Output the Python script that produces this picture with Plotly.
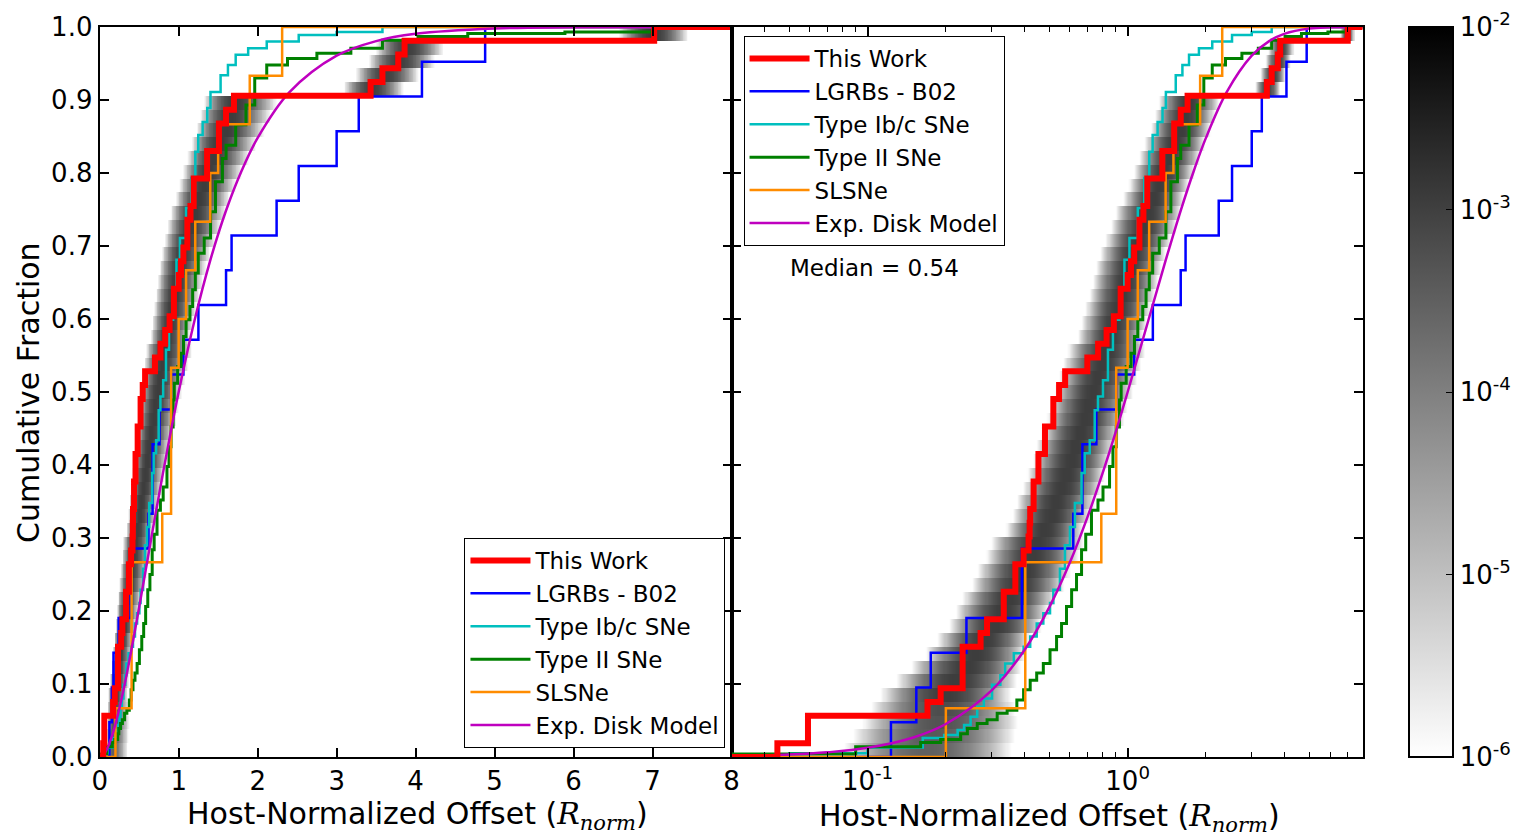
import numpy as np
import plotly.graph_objects as go

# ---------------- data ----------------
# This Work: sorted host-normalized offsets (N = 53)
this_work = [0.045, 0.059, 0.059, 0.170, 0.191, 0.232, 0.232, 0.232, 0.272, 0.288,
             0.334, 0.334, 0.370, 0.370, 0.398, 0.416, 0.420, 0.422, 0.435, 0.435,
             0.454, 0.454, 0.481, 0.481, 0.518, 0.518, 0.545, 0.575, 0.70, 0.77,
             0.83, 0.885, 0.94, 0.94, 1.00, 1.03, 1.06, 1.11, 1.11, 1.15,
             1.19, 1.19, 1.36, 1.36, 1.51, 1.51, 1.60, 1.70, 3.43, 3.58,
             3.78, 3.86, 7.02]

# LGRBs - B02 (N = 21)
lgrb_b02 = [0.123, 0.154, 0.175, 0.24, 0.392, 0.392, 0.618, 0.67, 0.67, 0.758,
            0.904, 1.06, 1.25, 1.60, 1.67, 2.24, 2.52, 3.0, 3.28, 4.08, 4.88]

# SLSNe (N = 15)
slsne = [0.20, 0.404, 0.404, 0.404, 0.792, 0.904, 0.904, 0.904, 1.0, 1.094,
         1.21, 1.40, 1.50, 1.90, 2.31]

# Type Ib/c SNe: step vertices (offset, cumulative fraction)
ibc_x = [0.05, 0.10, 0.163, 0.197, 0.222, 0.235, 0.249, 0.264, 0.280, 0.301,
         0.324, 0.338, 0.365, 0.398, 0.422, 0.447, 0.474, 0.503, 0.518, 0.549,
         0.574, 0.600, 0.627, 0.665, 0.684, 0.715, 0.747, 0.769, 0.804, 0.840,
         0.878, 0.930, 0.972, 1.016, 1.094, 1.159, 1.211, 1.248, 1.304, 1.362,
         1.403, 1.531, 1.624, 1.722, 1.880, 2.115, 2.52, 3.0, 3.58]
ibc_f = [0.005, 0.013, 0.026, 0.030, 0.037, 0.044, 0.055, 0.069, 0.080, 0.099,
         0.112, 0.128, 0.142, 0.151, 0.165, 0.183, 0.197, 0.211, 0.229, 0.258,
         0.290, 0.315, 0.348, 0.389, 0.416, 0.434, 0.475, 0.494, 0.516, 0.558,
         0.599, 0.640, 0.681, 0.711, 0.752, 0.793, 0.829, 0.852, 0.870, 0.889,
         0.911, 0.934, 0.948, 0.962, 0.971, 0.980, 0.989, 0.993, 1.0]

# Type II SNe: step vertices (offset, cumulative fraction)
snii_x = [0.02, 0.09, 0.16, 0.191, 0.228, 0.242, 0.264, 0.288, 0.315, 0.344,
          0.375, 0.398, 0.422, 0.447, 0.474, 0.503, 0.533, 0.557, 0.582, 0.609,
          0.636, 0.665, 0.690, 0.726, 0.769, 0.804, 0.852, 0.878, 0.904, 0.930,
          0.944, 0.987, 1.031, 1.062, 1.094, 1.143, 1.177, 1.211, 1.248, 1.323,
          1.403, 1.466, 1.554, 1.600, 1.722, 1.852, 1.963, 2.115, 2.378, 2.75,
          3.18, 3.58, 4.03, 4.66, 5.89, 7.02, 7.5]
snii_f = [0.004, 0.014, 0.020, 0.024, 0.032, 0.039, 0.046, 0.051, 0.060, 0.064,
          0.078, 0.092, 0.105, 0.115, 0.128, 0.147, 0.165, 0.183, 0.206, 0.229,
          0.250, 0.284, 0.305, 0.338, 0.352, 0.370, 0.398, 0.425, 0.452, 0.489,
          0.512, 0.535, 0.553, 0.576, 0.599, 0.617, 0.640, 0.663, 0.690, 0.711,
          0.747, 0.788, 0.820, 0.838, 0.866, 0.893, 0.930, 0.948, 0.957, 0.964,
          0.971, 0.982, 0.987, 0.991, 0.993, 0.998, 1.0]

# Exponential disk model curve (offset, cumulative fraction)
disk_x = [0.001, 0.03, 0.05, 0.07, 0.10, 0.15, 0.20, 0.30, 0.40, 0.50, 0.60, 0.70,
          0.80, 0.90, 1.0, 1.2, 1.4, 1.6, 1.8, 2.0, 2.4, 3.0, 3.5, 4.0, 5.0,
          6.0, 8.0, 20.0]
disk_f = [0.0, 0.0012, 0.0033, 0.0064, 0.0126, 0.0268, 0.0452, 0.0912, 0.1458,
          0.2053, 0.2667, 0.3283, 0.3882, 0.4455, 0.5000, 0.5976, 0.6803,
          0.7486, 0.8038, 0.8481, 0.9104, 0.9607, 0.9807, 0.9906, 0.9979,
          0.9995, 1.0, 1.0]

# Shaded band (Monte-Carlo density of the This Work CDF), one row per step:
# row centre (offset), half-width (dex) and peak log10 density
band_center = [0.17, 0.18, 0.19, 0.195, 0.20, 0.22, 0.24, 0.26, 0.28, 0.31,
               0.33, 0.35, 0.38, 0.40, 0.43, 0.45, 0.48, 0.51, 0.53, 0.56,
               0.58, 0.61, 0.63, 0.66, 0.69, 0.71, 0.74, 0.77, 0.80, 0.83,
               0.86, 0.89, 0.92, 0.95, 0.98, 1.01, 1.05, 1.10, 1.15, 1.20,
               1.26, 1.32, 1.38, 1.45, 1.52, 1.60, 1.66, 1.72, 3.45, 3.62,
               3.80, 3.90, 7.00]
band_hw = ([0.37, 0.35, 0.33, 0.30, 0.26, 0.24, 0.22, 0.20] + [0.185] * 8 +
           [0.155] * 14 + [0.13] * 10 + [0.12] * 8 + [0.05] * 4 + [0.028])
band_peak = [-3.5, -3.4, -3.3, -3.2] + [-2.95] * 44 + [-3.0] * 4 + [-2.9]

cbar_vals = [-6, -5, -4, -3, -2]
cbar_text = ["10<sup>-6</sup>", "10<sup>-5</sup>", "10<sup>-4</sup>",
             "10<sup>-3</sup>", "10<sup>-2</sup>"]
left_ticks = [0, 1, 2, 3, 4, 5, 6, 7, 8]
y_ticks = [0.0, 0.1, 0.2, 0.3, 0.4, 0.5, 0.6, 0.7, 0.8, 0.9, 1.0]
log_major = [0.1, 1.0]
log_major_text = ["10<sup>-1</sup>", "10<sup>0</sup>"]
log_minor = [0.03, 0.04, 0.05, 0.06, 0.07, 0.08, 0.09,
             0.2, 0.3, 0.4, 0.5, 0.6, 0.7, 0.8, 0.9,
             2, 3, 4, 5, 6, 7, 8]

# ---------------- geometry ----------------
W, H = 1521, 837
FONT = "DejaVu Sans"
X0, XM, X1 = 100 / W, 734 / W, 1367 / W
Y0, Y1 = 1 - 757 / H, 1 - 27 / H
X_START, X_END = 1e-3, 20.0

N = len(this_work)
y_edges = [k / N for k in range(N + 1)]


def band_z(xc):
    lx = np.log10(np.clip(xc, 1e-3, None))
    rows = []
    for k in range(N):
        d = (lx - np.log10(band_center[k])) / band_hw[k]
        lz = band_peak[k] - 3.3 * d ** 2
        rows.append([round(float(v), 3) if v >= -6 else None for v in lz])
    return rows


xl_edges = np.linspace(0, 8, 801)
xl_c = 0.5 * (xl_edges[1:] + xl_edges[:-1])
xr_edges = np.logspace(np.log10(0.03), np.log10(8), 601)
xr_c = np.sqrt(xr_edges[1:] * xr_edges[:-1])

gray = [[0, "rgb(255,255,255)"], [1, "rgb(0,0,0)"]]

fig = go.Figure()
fig.add_trace(go.Heatmap(x=xl_edges.tolist(), y=y_edges, z=band_z(xl_c), zmin=-6, zmax=-2,
                         colorscale=gray, showscale=False, hoverinfo="skip",
                         xaxis="x", yaxis="y"))
fig.add_trace(go.Heatmap(
    x=xr_edges.tolist(), y=y_edges, z=band_z(xr_c), zmin=-6, zmax=-2,
    colorscale=gray, showscale=True, hoverinfo="skip", xaxis="x2", yaxis="y2",
    colorbar=dict(x=1414 / W, xanchor="left", xpad=0, y=(Y0 + Y1) / 2, yanchor="middle",
                  ypad=0, len=Y1 - Y0, lenmode="fraction", thickness=44,
                  thicknessmode="pixels", outlinewidth=2, outlinecolor="black",
                  tickmode="array", tickvals=cbar_vals, ticktext=cbar_text,
                  ticks="inside", ticklen=8, tickcolor="black", tickwidth=1.2,
                  tickfont=dict(size=26, family=FONT, color="black"))))


def cdf_steps(vals):
    n = len(vals)
    xs = [X_START] + list(vals) + [X_END]
    ys = [0.0] + [(i + 1) / n for i in range(n)] + [1.0]
    return xs, ys


series = [
    ("LGRBs - B02", "#0000ff", 2.5, cdf_steps(lgrb_b02), "hv", 2),
    ("Type Ib/c SNe", "#00bfbf", 2.5, ([X_START] + ibc_x + [X_END], [0.0] + ibc_f + [1.0]), "hv", 3),
    ("Type II SNe", "#008000", 3.0, ([X_START] + snii_x + [X_END], [0.0] + snii_f + [1.0]), "hv", 4),
    ("SLSNe", "#ff8c00", 2.5, cdf_steps(slsne), "hv", 5),
    ("Exp. Disk Model", "#bf00bf", 2.5, (disk_x, disk_f), "spline", 6),
    ("This Work", "#ff0000", 6.0, cdf_steps(this_work), "hv", 1),
]

for xa, ya, leg in [("x", "y", "legend"), ("x2", "y2", "legend2")]:
    for name, color, width, (xs, ys), shape, rank in series:
        fig.add_trace(go.Scatter(x=xs, y=ys, mode="lines", name=name,
                                 line=dict(color=color, width=width, shape=shape),
                                 xaxis=xa, yaxis=ya, legend=leg, legendrank=rank,
                                 hoverinfo="skip"))

axis_common = dict(showline=True, linewidth=2, linecolor="black", mirror="ticks",
                   ticks="inside", ticklen=9, tickwidth=1.5, tickcolor="black",
                   showgrid=False, zeroline=False, automargin=False,
                   tickfont=dict(size=26, family=FONT, color="black"))

legend_common = dict(font=dict(size=23, family=FONT, color="black"),
                     bgcolor="white", bordercolor="black", borderwidth=1,
                     xanchor="left", yanchor="top", itemwidth=60,
                     traceorder="normal")

fig.update_layout(
    width=W, height=H, margin=dict(l=0, r=0, t=0, b=0),
    paper_bgcolor="white", plot_bgcolor="white",
    font=dict(family=FONT, color="black"),
    xaxis=dict(domain=[X0, XM], range=[0, 8], tickmode="array", tickvals=left_ticks,
               anchor="y", **axis_common),
    yaxis=dict(domain=[Y0, Y1], range=[0, 1], tickmode="array", tickvals=y_ticks,
               tickformat=".1f", anchor="x", **axis_common),
    xaxis2=dict(domain=[XM, X1], type="log", range=[np.log10(0.03), np.log10(8)],
                tickmode="array", tickvals=log_major, ticktext=log_major_text,
                minor=dict(tickmode="array", tickvals=log_minor, ticks="inside",
                           ticklen=5, tickwidth=1.2, tickcolor="black", showgrid=False),
                anchor="y2", **axis_common),
    yaxis2=dict(domain=[Y0, Y1], range=[0, 1], tickmode="array", tickvals=y_ticks,
                showticklabels=False, anchor="x2", **axis_common),
    legend=dict(x=466 / W, y=1 - 538 / H, **legend_common),
    legend2=dict(x=746 / W, y=1 - 36 / H, **legend_common),
    showlegend=True,
)

rnorm = ('<span style="font-family:DejaVu Serif"><i>R</i>'
         '<sub><i>norm</i></sub></span>')
annotations = [
    dict(text="Cumulative Fraction", x=28 / W, y=1 - 392 / H, textangle=-90,
         font=dict(size=30)),
    dict(text="Host-Normalized Offset (" + rnorm + ")", x=419 / W, y=1 - 815 / H,
         font=dict(size=30)),
    dict(text="Host-Normalized Offset (" + rnorm + ")", x=1053 / W, y=1 - 817 / H,
         font=dict(size=30)),
    dict(text="Median = 0.54", x=877 / W, y=1 - 268 / H, font=dict(size=23)),
]
for a in annotations:
    a.update(xref="paper", yref="paper", showarrow=False, xanchor="center",
             yanchor="middle")
    a["font"].update(family=FONT, color="black")
fig.update_layout(annotations=annotations)

fig.write_html("out.html")
